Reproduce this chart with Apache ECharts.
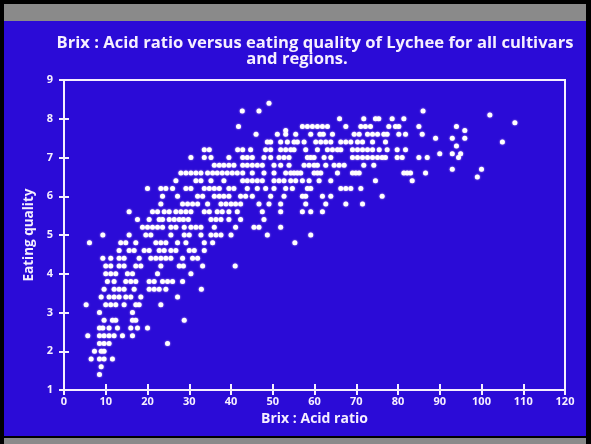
<!DOCTYPE html>
<html><head><meta charset="utf-8">
<script src="https://cdn.jsdelivr.net/npm/echarts@6/dist/echarts.min.js"></script>
<style>
html,body{margin:0;padding:0;background:#000;}
#frame{position:relative;width:591px;height:444px;background:#000;overflow:hidden;}
#topband{position:absolute;left:4px;top:4px;width:582px;height:17px;background:#8a8a8a;}
#bottomband{position:absolute;left:4px;top:438px;width:582px;height:6px;background:#8a8a8a;}
#chart{position:absolute;left:4px;top:21px;width:582px;height:415px;}
</style></head>
<body>
<div id="frame"><div id="topband"></div><div id="chart"></div><div id="bottomband"></div></div>
<script>
const titleLine1 = 'Brix : Acid ratio versus eating quality of Lychee for all cultivars';
const titleLine2 = 'and regions.';
const xAxisTitle = 'Brix : Acid ratio';
const yAxisTitle = 'Eating quality';
const xTicks = [0,10,20,30,40,50,60,70,80,90,100,110,120];
const yTicks = [1,2,3,4,5,6,7,8,9];

// eating-quality levels and the Brix:Acid ratios of the points on each level
const qualityLevels = [8.4,8.2,8.1,8.0,7.9,7.8,7.7,7.6,7.5,7.4,7.3,7.2,7.1,7.0,6.8,6.7,6.6,6.5,6.4,6.2,6.0,5.8,5.6,5.4,5.2,5.0,4.8,4.6,4.4,4.2,4.0,3.8,3.6,3.4,3.2,3.0,2.8,2.6,2.4,2.2,2.0,1.8,1.6,1.4];
const ratiosAtLevel = [
  [49.1],
  [42.7,46.7,86],
  [102],
  [66,71.8,74.6,75.4,78.6,81.4],
  [108],
  [41.8,57.1,58.3,59.5,60.7,61.9,63.1,67.5,71.1,72.2,73.4,77.8,79.4,80.2,85,94],
  [53.1,96],
  [46,51.1,53.1,55.5,59.1,61.3,62.1,64.3,69.5,70.7,72.7,73.9,75.1,76.6,77.4,80.2,81.8,85.8],
  [89,93,96],
  [48.7,49.5,51.9,53.5,55.1,55.9,57.5,60.3,61.5,62.7,63.9,66.3,67.5,68.7,70.3,71.5,73.9,77,105],
  [94],
  [33.6,34.8,41.6,42.8,44.7,48.3,49.5,51.9,53.1,54.3,55.1,57.9,60.7,63.1,64.3,65.5,66.3,69.1,70.3,71.5,72.7,73.9,75.5,77.4,79.8,81.8],
  [90,93,95],
  [30.4,33.6,35.2,39.5,42.8,43.9,45.1,47.9,49.5,51.5,52.7,53.9,58.3,59.1,59.9,62.3,63.9,69.1,70.3,71.5,72.7,73.9,75.1,76.2,77,79.8,81,85,87,94.5],
  [36,37.2,38.3,39.5,40.7,42.8,43.9,45.1,46.3,47.5,50.3,51.9,53.9,57.5,58.7,59.9,60.7,62.7,64.7,65.9,67.1,71.8,74.2],
  [93,100],
  [28,29.2,30.4,31.6,32.8,34.4,35.6,36.7,37.9,39.1,40.3,41.5,42.8,45.1,47.9,50.3,53.1,54.3,55.1,55.9,56.7,59.9,60.7,61.5,65.5,69.1,69.9,70.7,81.4,82.2,83,86.6],
  [99],
  [26.8,31.6,32.8,35.2,38.3,42.8,43.9,45.1,46.3,47.5,50.3,51.5,52.7,54.3,55.5,57.1,58.7,61.1,63.9,74.6,83.4],
  [20,23.2,24.4,26,29.2,30.4,33.6,34.8,36,37.2,39.5,40.7,43.9,46.3,48.3,50.3,53.1,54.7,58.3,59.1,66.3,67.5,68.7,71.1],
  [23.6,27.2,32,33.2,36,37.2,38.3,39.5,42.3,43.5,45.1,49.5,52.7,57.1,57.9,61.9,63.9,76.2],
  [23.2,28.4,29.6,30.8,32,34.4,37.6,38.8,40,41.1,42.3,46.7,49.1,51.9,57.9,62.7,67.5,71.5],
  [15.6,21.2,22.4,24,25.2,26.8,28,29.2,30.4,33.6,34.8,36.7,37.9,39.5,41.5,47.5,51.9,57.1,59.1,61.9],
  [17.6,20.4,22.8,23.6,25.2,26.4,27.6,28.6,29.8,35.2,36.4,37.6,39.5,42.3,47.9],
  [18.8,20,21.2,22.4,23.6,25.6,26.8,28.8,30.4,31.6,32.8,36,41.1,45.5,46.7,51.9],
  [9.3,15.6,19.6,20.8,25.6,28.8,30,32.8,35.2,36.4,37.6,40,48.7,59.1],
  [6.1,13.6,14.8,17.2,22,23.2,24.4,27.2,29.2,33.6,35.6,55.3],
  [13.2,15.6,16.8,19.2,20.4,22.8,24,25.6,26.8,30,31.2,33.6],
  [9.3,11.2,13.2,14.4,18,20.8,22,23.2,24.4,25.6,28.4,30.8,32],
  [10,11.2,13.2,14.4,17.2,18.4,23.2,27.6,28.6,33.2,41],
  [10,11.2,12.4,15.2,16.4,22.4,30.4],
  [10.4,12,14.8,16,17.2,20.4,21.6,23.6,24.8,26,28.4],
  [9.6,12,13.2,14.4,16.8,20.4,21.6,22.8,24.4,32.9],
  [8.9,10.8,12,13.2,14.8,16,18.4,27.2],
  [5.3,10,11.2,12.4,14.4,17.2,18,23.2],
  [8.5,16.4],
  [9.6,11.6,12.4,16.4,17.2,28.8],
  [8.5,9.3,10.8,12.8,16,17.6,20],
  [5.7,8.5,9.6,10.8,12,14,16.4],
  [8.5,9.6,10.8,24.8],
  [7.3,8.9,9.6],
  [6.5,8.5,9.6,11.6],
  [8.9],
  [8.5]
];

const points = [];
qualityLevels.forEach((q, i) => ratiosAtLevel[i].forEach(r => points.push([r, q])));

const WHITE = '#f6efff';
const BLUE = '#2b0bd7';
const FONT = '"Open Sans"';

const chart = echarts.init(document.getElementById('chart'), null, {renderer: 'canvas'});
const baseX = {
  type: 'value', min: xTicks[0], max: xTicks[xTicks.length - 1], interval: 10,
  position: 'bottom', splitLine: {show: false}
};
const baseY = {
  type: 'value', min: yTicks[0], max: yTicks[yTicks.length - 1], interval: 1,
  position: 'left', splitLine: {show: false}
};
chart.setOption({
  backgroundColor: BLUE,
  animation: false,
  graphic: [
    {type: 'text', x: 311, y: 22, style: {text: titleLine1, fill: WHITE, textAlign: 'center', textVerticalAlign: 'middle', font: 'bold 16.6px ' + FONT}},
    {type: 'text', x: 293, y: 38.5, style: {text: titleLine2, fill: WHITE, textAlign: 'center', textVerticalAlign: 'middle', font: 'bold 16.6px ' + FONT}}
  ],
  grid: {left: 60, right: 21, top: 59, bottom: 46, show: true, borderColor: WHITE, borderWidth: 2, backgroundColor: 'transparent'},
  xAxis: [
    Object.assign({}, baseX, {
      name: xAxisTitle, nameLocation: 'middle', nameGap: 21,
      nameTextStyle: {color: WHITE, fontSize: 14, fontWeight: 'bold', fontFamily: 'Open Sans'},
      axisLine: {lineStyle: {color: WHITE, width: 2}},
      axisTick: {show: true, inside: false, length: 5, lineStyle: {color: WHITE, width: 2}},
      axisLabel: {color: WHITE, fontSize: 11, fontWeight: 'bold', fontFamily: 'Open Sans', margin: 6}
    }),
    Object.assign({}, baseX, {
      axisLine: {show: false},
      axisTick: {show: true, inside: true, length: 6, lineStyle: {color: WHITE, width: 2}},
      axisLabel: {show: false}
    })
  ],
  yAxis: [
    Object.assign({}, baseY, {
      name: yAxisTitle, nameLocation: 'middle', nameGap: 27,
      nameTextStyle: {color: WHITE, fontSize: 13.5, fontWeight: 'bold', fontFamily: 'Open Sans'},
      axisLine: {lineStyle: {color: WHITE, width: 2}},
      axisTick: {show: true, inside: false, length: 5, lineStyle: {color: WHITE, width: 2}},
      axisLabel: {color: WHITE, fontSize: 11, fontWeight: 'bold', fontFamily: 'Open Sans', margin: 11}
    }),
    Object.assign({}, baseY, {
      axisLine: {show: false},
      axisTick: {show: true, inside: true, length: 5, lineStyle: {color: WHITE, width: 2}},
      axisLabel: {show: false}
    })
  ],
  series: [{
    type: 'scatter', xAxisIndex: 0, yAxisIndex: 0,
    data: points, symbol: 'circle', symbolSize: 5,
    itemStyle: {color: '#ffffff', opacity: 1, shadowColor: 'rgba(255,220,255,0.8)', shadowBlur: 2}
  }]
});
</script>
</body></html>
